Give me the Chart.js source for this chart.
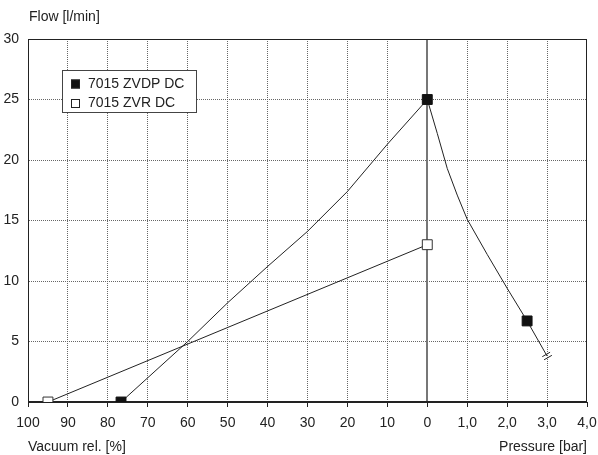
<!DOCTYPE html>
<html>
<head>
<meta charset="utf-8">
<script src="https://cdn.jsdelivr.net/npm/chart.js@4"></script>
<style>
  body { margin: 0; background: #fff; }
  canvas { display: block; }
</style>
</head>
<body>
<canvas id="flowChart" width="598" height="455"></canvas>
<script>
// x axis: left half is vacuum (100% -> 0%), right half is pressure (0 -> 4 bar)
const xTickLabels = ['100', '90', '80', '70', '60', '50', '40', '30', '20', '10', '0', '1,0', '2,0', '3,0', '4,0'];

// 7015 ZVDP DC
const zvdpVacuum = [76.7, 60, 50, 40, 30, 20, 10, 0];
const zvdpVacuumFlow = [0, 5, 8.2, 11.2, 14.1, 17.4, 21.3, 25];
const zvdpPressure = [0.25, 0.5, 0.75, 1.0, 1.5, 2.0, 2.5, 3.0];
const zvdpPressureFlow = [22.2, 19.3, 17.1, 15.1, 12.2, 9.4, 6.7, 3.8];
const zvdpMarked = [76.7, 0, 12.5]; // axis positions that get a square

// 7015 ZVR DC
const zvrVacuum = [95, 0];
const zvrVacuumFlow = [0, 13];

const vacPos = v => (100 - v) / 10;
const barPos = b => 10 + b;

const zvdpData = zvdpVacuum.map((v, i) => ({ x: vacPos(v), y: zvdpVacuumFlow[i] }))
    .concat(zvdpPressure.map((b, i) => ({ x: barPos(b), y: zvdpPressureFlow[i] })));
const zvrData = zvrVacuum.map((v, i) => ({ x: vacPos(v), y: zvrVacuumFlow[i] }));
const zvdpMarkPos = [vacPos(zvdpMarked[0]), vacPos(zvdpMarked[1]), zvdpMarked[2]];

const textColor = '#222';
Chart.defaults.font.family = "'Liberation Sans', Arial, sans-serif";
Chart.defaults.font.size = 14;
Chart.defaults.color = textColor;

const framePlugin = {
    id: 'frame',
    beforeDatasetsDraw(chart) {
        const { ctx, chartArea: a, scales: { x } } = chart;
        ctx.save();
        // the 0 line between vacuum and pressure
        const zx = Math.round(x.getPixelForValue(10));
        ctx.strokeStyle = '#777';
        ctx.lineWidth = 2;
        ctx.beginPath();
        ctx.moveTo(zx, a.top);
        ctx.lineTo(zx, a.bottom);
        ctx.stroke();
        ctx.strokeStyle = textColor;
        ctx.lineWidth = 1;
        ctx.strokeRect(Math.round(a.left) + 0.5, Math.round(a.top) + 0.5,
            Math.round(a.right - a.left) - 1, Math.round(a.bottom - a.top) - 1);
        ctx.restore();
    },
    afterDraw(chart) {
        const { ctx } = chart;
        ctx.save();
        // double tick where the ZVDP curve ends
        const pts = chart.getDatasetMeta(0).data;
        const p = pts[pts.length - 1], q = pts[pts.length - 2];
        const ang = Math.atan2(p.y - q.y, p.x - q.x);
        const ux = Math.cos(ang), uy = Math.sin(ang);
        ctx.strokeStyle = textColor;
        ctx.lineWidth = 1;
        [-1.8, 1.8].forEach(off => {
            const cx = p.x + ux * off, cy = p.y + uy * off;
            ctx.beginPath();
            ctx.moveTo(cx - uy * 4.5, cy + ux * 4.5);
            ctx.lineTo(cx + uy * 4.5, cy - ux * 4.5);
            ctx.stroke();
        });

        // legend box
        ctx.fillStyle = '#fff';
        ctx.fillRect(63, 71, 133, 41);
        ctx.strokeStyle = '#444';
        ctx.strokeRect(62.5, 70.5, 134, 42);
        ctx.font = "14px 'Liberation Sans', Arial, sans-serif";
        ctx.textBaseline = 'middle';
        chart.data.datasets.forEach((ds, i) => {
            const y = 84 + i * 19.5;
            ctx.fillStyle = ds.pointBackgroundColor;
            ctx.fillRect(71, y - 4.5, 9, 9);
            ctx.strokeStyle = textColor;
            ctx.strokeRect(71.5, y - 4, 8, 8);
            ctx.fillStyle = textColor;
            ctx.textAlign = 'left';
            ctx.fillText(ds.label, 88, y);
        });

        // axis titles
        ctx.fillStyle = textColor;
        ctx.textAlign = 'left';
        ctx.fillText('Flow [l/min]', 29, 17);
        ctx.fillText('Vacuum rel. [%]', 28, 447);
        ctx.textAlign = 'right';
        ctx.fillText('Pressure [bar]', 587, 447);
        ctx.restore();
    }
};

new Chart(document.getElementById('flowChart'), {
    type: 'scatter',
    data: {
        datasets: [{
            label: '7015 ZVDP DC',
            data: zvdpData,
            showLine: true,
            tension: 0,
            borderColor: textColor,
            borderWidth: 1,
            pointStyle: 'rect',
            pointBackgroundColor: '#111',
            pointBorderColor: '#111',
            pointBorderWidth: 1,
            pointRadius: ctx => zvdpMarkPos.some(m => Math.abs(m - ctx.raw.x) < 1e-6) ? 7 : 0
        }, {
            label: '7015 ZVR DC',
            data: zvrData,
            showLine: true,
            tension: 0,
            borderColor: textColor,
            borderWidth: 1,
            pointStyle: 'rect',
            pointBackgroundColor: '#fff',
            pointBorderColor: '#333',
            pointBorderWidth: 1,
            pointRadius: 7
        }]
    },
    options: {
        responsive: false,
        animation: false,
        layout: { padding: { top: 39, right: 11, left: 0, bottom: 0 } },
        plugins: {
            legend: { display: false },
            tooltip: { enabled: false }
        },
        scales: {
            x: {
                type: 'linear',
                min: 0,
                max: 14,
                afterFit: s => { s.height = 53; s.paddingLeft = 0; s.paddingRight = 0; },
                afterBuildTicks: s => { s.ticks = xTickLabels.map((_, i) => ({ value: i })); },
                ticks: {
                    stepSize: 1,
                    padding: 8,
                    color: textColor,
                    callback: (v, i) => xTickLabels[i]
                },
                grid: {
                    color: c => (c.tick && [0, 10, 14].includes(c.tick.value)) ? 'rgba(0,0,0,0)' : '#666',
                    lineWidth: 1,
                    tickLength: 5,
                    tickColor: textColor,
                    tickBorderDash: []
                },
                border: { display: true, color: textColor, width: 1, dash: [1, 1] }
            },
            y: {
                min: 0,
                max: 30,
                afterFit: s => { s.width = 28; s.paddingTop = 0; s.paddingBottom = 0; },
                ticks: { stepSize: 5, padding: 9, color: textColor },
                grid: {
                    color: c => (c.tick && [0, 30].includes(c.tick.value)) ? 'rgba(0,0,0,0)' : '#666',
                    lineWidth: 1,
                    drawTicks: false
                },
                border: { display: true, color: textColor, width: 1, dash: [1, 1] }
            }
        }
    },
    plugins: [framePlugin]
});
</script>
</body>
</html>
